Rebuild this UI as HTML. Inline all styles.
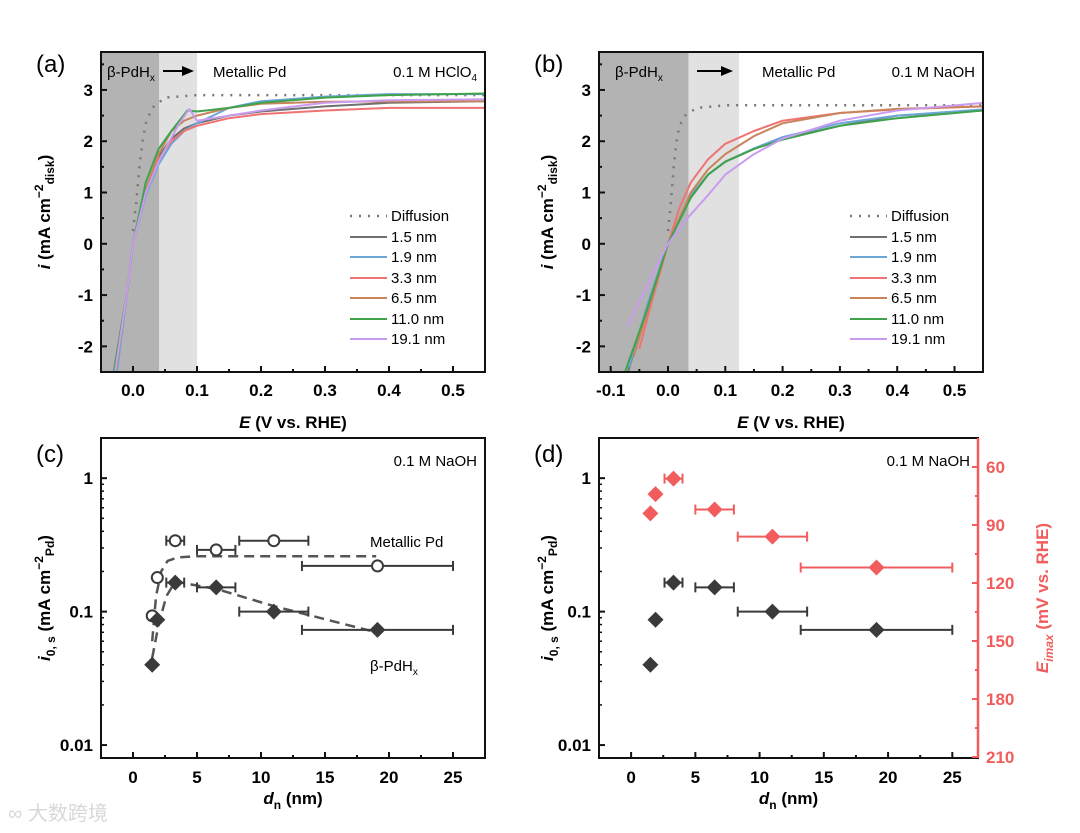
<!DOCTYPE html>
<html><head><meta charset="utf-8"><style>
html,body{margin:0;padding:0;background:#fff}
svg{display:block;font-family:"Liberation Sans",Arial,sans-serif}
.tk{font-weight:bold;font-size:17px}
.ti{font-weight:bold;font-size:17px}
.an{font-size:15px}
.pl{font-size:24px}
</style></head><body>
<svg id="c" width="1080" height="833" viewBox="0 0 1080 833">
<text x="8" y="820" font-size="20" fill="#d8d8d8" font-family="'Liberation Sans','Noto Sans CJK SC',sans-serif">∞ 大数跨境</text>
</svg>
<script>
const NS='http://www.w3.org/2000/svg';
const svg=document.getElementById('c');
function mk(t,a,p){const e=document.createElementNS(NS,t);for(const k in a)e.setAttribute(k,a[k]);(p||svg).appendChild(e);return e;}
function tx(x,y,s,cls,anchor,p,extra){const e=mk('text',Object.assign({x:x,y:y,'class':cls||'','text-anchor':anchor||'start'},extra||{}),p);e.innerHTML=s;return e;}

// ---- data panel a ----
const seriesNames=['1.5 nm','1.9 nm','3.3 nm','6.5 nm','11.0 nm','19.1 nm'];
const seriesColors=['#707070','#6ea6d8','#f07272','#c8845a','#3fa34d','#c99cf0'];
const aDiff=[[0,0.25],[0.005,0.8],[0.01,1.5],[0.015,2.0],[0.02,2.35],[0.03,2.65],[0.05,2.85],[0.1,2.9],[0.3,2.9],[0.55,2.9]];
const a15=[[-0.03,-2.5],[-0.01,-1],[0,0],[0.02,1.0],[0.04,1.7],[0.06,2.05],[0.08,2.25],[0.1,2.35],[0.15,2.5],[0.2,2.58],[0.3,2.68],[0.4,2.75],[0.55,2.78]];
const a19=[[-0.025,-2.5],[-0.01,-1.05],[0,0],[0.02,0.95],[0.04,1.55],[0.06,1.95],[0.08,2.2],[0.1,2.35],[0.15,2.65],[0.2,2.78],[0.3,2.87],[0.4,2.92],[0.55,2.92]];
const a33=[[-0.027,-2.5],[-0.01,-1],[0,0],[0.02,1.0],[0.04,1.65],[0.06,2.0],[0.08,2.2],[0.1,2.3],[0.15,2.45],[0.2,2.53],[0.3,2.6],[0.4,2.65],[0.55,2.65]];
const a65=[[-0.027,-2.5],[-0.01,-1],[0,0],[0.02,1.05],[0.04,1.75],[0.06,2.2],[0.08,2.4],[0.1,2.5],[0.15,2.65],[0.2,2.73],[0.3,2.77],[0.55,2.78]];
const a110=[[-0.03,-2.5],[-0.01,-1],[0,0],[0.02,1.2],[0.04,1.85],[0.06,2.2],[0.085,2.6],[0.1,2.58],[0.15,2.65],[0.2,2.75],[0.3,2.85],[0.4,2.9],[0.55,2.93]];
const a191=[[-0.028,-2.5],[-0.01,-1],[0,0],[0.02,1.0],[0.04,1.6],[0.07,2.3],[0.088,2.63],[0.1,2.4],[0.15,2.5],[0.2,2.6],[0.3,2.75],[0.4,2.8],[0.55,2.82]];
// ---- data panel b ----
const bDiff=[[0,0.25],[0.005,0.8],[0.01,1.5],[0.015,2.0],[0.02,2.3],[0.03,2.5],[0.05,2.65],[0.1,2.7],[0.55,2.7]];
const b15=[[-0.07,-2.5],[-0.035,-1.2],[0,0],[0.04,0.95],[0.07,1.35],[0.1,1.6],[0.15,1.85],[0.2,2.05],[0.3,2.3],[0.4,2.5],[0.55,2.6]];
const b19=[[-0.068,-2.4],[-0.035,-1.15],[0,0],[0.04,0.95],[0.07,1.35],[0.1,1.6],[0.15,1.86],[0.2,2.08],[0.3,2.35],[0.4,2.5],[0.55,2.62]];
const b33=[[-0.05,-2.05],[-0.03,-1.2],[0,0],[0.02,0.7],[0.04,1.2],[0.07,1.65],[0.1,1.95],[0.15,2.2],[0.2,2.4],[0.3,2.55],[0.4,2.62],[0.55,2.68]];
const b65=[[-0.06,-2.2],[-0.03,-1.1],[0,0],[0.04,1.0],[0.07,1.45],[0.1,1.75],[0.15,2.1],[0.2,2.35],[0.3,2.55],[0.4,2.63],[0.55,2.68]];
const b110=[[-0.075,-2.5],[-0.04,-1.4],[0,0],[0.04,0.9],[0.07,1.35],[0.1,1.6],[0.15,1.85],[0.2,2.03],[0.3,2.3],[0.4,2.45],[0.55,2.6]];
const b191=[[-0.07,-1.6],[-0.04,-0.9],[0,0],[0.03,0.45],[0.07,0.95],[0.1,1.35],[0.15,1.75],[0.2,2.05],[0.3,2.4],[0.4,2.6],[0.55,2.75]];
// ---- data panels c,d ----
const dn=[1.5,1.9,3.3,6.5,11.0,19.1];
const dnErr=[0,0,0.7,1.5,2.7,5.9];
const iMetal=[0.093,0.18,0.34,0.29,0.34,0.22];
const iHyd=[0.04,0.087,0.165,0.152,0.1,0.073];
const eMax=[84,74,66,82,96,112];
const fitMetal=[[1.5,0.06],[1.8,0.13],[2.2,0.2],[2.7,0.24],[3.5,0.255],[5,0.26],[19,0.26]];
const fitHyd=[[1.5,0.045],[2,0.08],[2.6,0.13],[3.3,0.168],[6.5,0.148],[11,0.11],[19,0.07]];
const xTicksA=['0.0','0.1','0.2','0.3','0.4','0.5'];
const xTicksB=['-0.1','0.0','0.1','0.2','0.3','0.4','0.5'];
const yTicksAB=['-2','-1','0','1','2','3'];
const xTicksCD=['0','5','10','15','20','25'];
const yTicksCD=['0.01','0.1','1'];
const rTicksD=['60','90','120','150','180','210'];

function lin(d0,d1,r0,r1){return v=>r0+(v-d0)/(d1-d0)*(r1-r0);}
function logS(d0,d1,r0,r1){return v=>r0+(Math.log10(v)-Math.log10(d0))/(Math.log10(d1)-Math.log10(d0))*(r1-r0);}

function frame(x0,y0,x1,y1,name){mk('rect',{x:x0,y:y0,width:x1-x0,height:y1-y0,fill:'none',stroke:'#111','stroke-width':2,});}
function clip(id,x0,y0,x1,y1){const c=mk('clipPath',{id:id});mk('rect',{x:x0,y:y0,width:x1-x0,height:y1-y0},c);}

function curve(pts,X,Y,col,dash,name,cl){
  const d=pts.map((p,i)=>(i?'L':'M')+X(p[0]).toFixed(1)+','+Y(p[1]).toFixed(1)).join('');
  const e=mk('path',{d:d,fill:'none',stroke:col,'stroke-width':dash?2.5:2,'stroke-dasharray':dash||'none','stroke-linejoin':'round','clip-path':'url(#'+cl+')'});
  
  
}

function panelAB(o){
  const X=lin(o.xmin,o.xmax,o.x0,o.x1),Y=lin(o.ymin,o.ymax,o.y1,o.y0);
  clip(o.id,o.x0,o.y0,o.x1,o.y1);
  mk('rect',{x:o.x0,y:o.y0,width:X(o.dark)-o.x0,height:o.y1-o.y0,fill:'#b3b3b3',});
  mk('rect',{x:X(o.dark),y:o.y0,width:X(o.light)-X(o.dark),height:o.y1-o.y0,fill:'#e1e1e1',});
  curve(o.diff,X,Y,'#777','2 7','diffusion-curve',o.id);
  o.series.forEach((s,i)=>curve(s,X,Y,seriesColors[i],null,'curve-'+seriesNames[i].replace(/[ .]/g,'-'),o.id));
  frame(o.x0,o.y0,o.x1,o.y1,'plot-frame-'+o.id);
  o.xt.forEach(t=>{const v=+t,x=X(v);mk('line',{x1:x,x2:x,y1:o.y1,y2:o.y1-6,stroke:'#111','stroke-width':2});tx(x,o.y1+24,t,'tk','middle');
    const xm=X(v+0.05);if(v+0.05<o.xmax)mk('line',{x1:xm,x2:xm,y1:o.y1,y2:o.y1-3,stroke:'#111','stroke-width':2});});
  yTicksAB.forEach(t=>{const v=+t,y=Y(v);mk('line',{x1:o.x0,x2:o.x0+6,y1:y,y2:y,stroke:'#111','stroke-width':2});tx(o.x0-8,y+6,t,'tk','end');
    const ym=Y(v+0.5);mk('line',{x1:o.x0,x2:o.x0+3,y1:ym,y2:ym,stroke:'#111','stroke-width':2});});
  const xc=(o.x0+o.x1)/2;
  tx(xc,o.y1+56,'<tspan font-style="italic">E</tspan> (V vs. RHE)','ti','middle',null,{});
  tx(0,0,'<tspan font-style="italic">i</tspan> (mA cm<tspan font-size="12" dy="-7">−2</tspan><tspan font-size="12" dy="11">disk</tspan><tspan dy="-4">)</tspan>','ti','middle',null,{transform:'translate('+o.yx+','+((o.y0+o.y1)/2)+') rotate(-90)',});
  tx(o.lab[0],o.lab[1],o.label,'pl','start',null,{});
  tx(o.bx,77,'β-PdH<tspan font-size="10" dy="4">x</tspan>','an','start',null,{});
  mk('line',{x1:o.ax0,x2:o.ax1-8,y1:71,y2:71,stroke:'#000','stroke-width':2,});
  mk('polygon',{points:(o.ax1)+',71 '+(o.ax1-12)+',66 '+(o.ax1-12)+',76',fill:'#000'});
  tx(o.mx,77,'Metallic Pd','an','start',null,{});
  tx(o.x1-8,77,o.el,'an','end',null,{});
  // legend
  const ly=[221,242,262,283,303,324,344];
  const g=mk('g',{});
  mk('line',{x1:o.lx,x2:o.lx+37,y1:ly[0]-5,y2:ly[0]-5,stroke:'#777','stroke-width':2.5,'stroke-dasharray':'2 7'},g);
  tx(o.lx+41,ly[0],'Diffusion','an','start',g);
  seriesNames.forEach((n,i)=>{const y=ly[i+1];const e=mk('g',{},g);
    mk('line',{x1:o.lx,x2:o.lx+37,y1:y-5,y2:y-5,stroke:seriesColors[i],'stroke-width':2},e);tx(o.lx+41,y,n,'an','start',e);});
}
panelAB({id:'pa',x0:101,x1:485,y0:52,y1:372,xmin:-0.05,xmax:0.55,ymin:-2.5,ymax:3.74,dark:0.041,light:0.1,diff:aDiff,series:[a15,a19,a33,a65,a110,a191],xt:xTicksA,yx:50,lab:[36,72],label:'(a)',bx:107,ax0:163,ax1:194,mx:213,el:'0.1 M HClO<tspan font-size="10" dy="4">4</tspan>',lx:350});
panelAB({id:'pb',x0:599,x1:983,y0:52,y1:372,xmin:-0.1204,xmax:0.5497,ymin:-2.5,ymax:3.74,dark:0.036,light:0.124,diff:bDiff,series:[b15,b19,b33,b65,b110,b191],xt:xTicksB,yx:553,lab:[534,72],label:'(b)',bx:615,ax0:697,ax1:733,mx:762,el:'0.1 M NaOH',lx:850});

function diamond(x,y,col,name){const s=8;const e=mk('polygon',{points:`${x},${y-s} ${x+s},${y} ${x},${y+s} ${x-s},${y}`,fill:col});}
function errX(X,Y,x,e,v,col){if(!e)return;const y=Y(v);mk('line',{x1:X(x-e),x2:X(x+e),y1:y,y2:y,stroke:col,'stroke-width':2});
  [x-e,x+e].forEach(q=>mk('line',{x1:X(q),x2:X(q),y1:y-5,y2:y+5,stroke:col,'stroke-width':2}));}

function panelCD(o){
  const X=lin(-2.5,o.xmax,o.x0,o.x1),Y=logS(0.008,2.0,o.y1,o.y0);
  clip(o.id,o.x0,o.y0,o.x1,o.y1);
  frame(o.x0,o.y0,o.x1,o.y1,'plot-frame-'+o.id);
  xTicksCD.forEach(t=>{const v=+t,x=X(v);mk('line',{x1:x,x2:x,y1:o.y1,y2:o.y1-6,stroke:'#111','stroke-width':2});tx(x,o.y1+25,t,'tk','middle');
    if(v<25){const xm=X(v+2.5);mk('line',{x1:xm,x2:xm,y1:o.y1,y2:o.y1-3,stroke:'#111','stroke-width':2});}});
  yTicksCD.forEach(t=>{const v=+t,y=Y(v);mk('line',{x1:o.x0,x2:o.x0+6,y1:y,y2:y,stroke:'#111','stroke-width':2});tx(o.x0-8,y+6,t,'tk','end');
    for(let k=2;k<10;k++){const ym=Y(v*k);if(ym>o.y0)mk('line',{x1:o.x0,x2:o.x0+3,y1:ym,y2:ym,stroke:'#111','stroke-width':1.5});}});
  tx((o.x0+o.x1)/2,o.y1+46,'<tspan font-style="italic">d</tspan><tspan font-size="12" dy="5">n</tspan><tspan dy="-5"> (nm)</tspan>','ti','middle',null,{});
  tx(0,0,'<tspan font-style="italic">i</tspan><tspan font-size="12" dy="5">0, s</tspan><tspan dy="-5"> (mA cm</tspan><tspan font-size="12" dy="-7">−2</tspan><tspan font-size="12" dy="11">Pd</tspan><tspan dy="-4">)</tspan>','ti','middle',null,{transform:'translate('+o.yx+','+((o.y0+o.y1)/2)+') rotate(-90)',});
  tx(o.lab[0],o.lab[1],o.label,'pl','start',null,{});
  tx(o.x1-8,466,'0.1 M NaOH','an','end',null,{});
  const dk='#3a3a3a';
  if(o.c){
    curve(fitMetal,X,Y,'#555','10 6','metallic-fit',o.id);
    curve(fitHyd,X,Y,'#555','10 6','hydride-fit',o.id);
    dn.forEach((x,i)=>{errX(X,Y,x,dnErr[i],iMetal[i],dk);const c=mk('circle',{cx:X(x),cy:Y(iMetal[i]),r:5.5,fill:'#fff',stroke:dk,'stroke-width':2});});
    tx(370,547,'Metallic Pd','an','start',null,{});
    tx(370,671,'β-PdH<tspan font-size="10" dy="4">x</tspan>','an','start',null,{});
  }
  dn.forEach((x,i)=>{errX(X,Y,x,dnErr[i],iHyd[i],dk);diamond(X(x),Y(iHyd[i]),dk,'hydride-point');});
  if(o.d){
    const R=lin(45,210.5,o.y0,o.y1),red='#f25c5c';
    mk('line',{x1:o.x1,x2:o.x1,y1:o.y0,y2:o.y1,stroke:red,'stroke-width':2.5,});
    rTicksD.forEach(t=>{const v=+t,y=R(v);mk('line',{x1:o.x1,x2:o.x1-6,y1:y,y2:y,stroke:red,'stroke-width':2});tx(o.x1+8,y+6,t,'tk','start',null,{fill:red});
      if(v<210){const ym=R(v+15);mk('line',{x1:o.x1,x2:o.x1-3,y1:ym,y2:ym,stroke:red,'stroke-width':2});}});
    tx(0,0,'<tspan font-style="italic">E</tspan><tspan font-size="12" dy="5" font-style="italic">imax</tspan><tspan dy="-5"> (mV vs. RHE)</tspan>','ti','middle',null,{fill:red,transform:'translate(1048,'+((o.y0+o.y1)/2)+') rotate(-90)',});
    dn.forEach((x,i)=>{errX(X,R,x,dnErr[i],eMax[i],red);diamond(X(x),R(eMax[i]),red,'eimax-point');});
  }
}
panelCD({id:'pc',x0:101,x1:485,y0:438,y1:758,xmax:27.5,yx:50,lab:[36,462],label:'(c)',c:true});
panelCD({id:'pd',x0:599,x1:978,y0:438,y1:758,xmax:27.0,yx:553,lab:[534,462],label:'(d)',d:true});
</script>
</body></html>
